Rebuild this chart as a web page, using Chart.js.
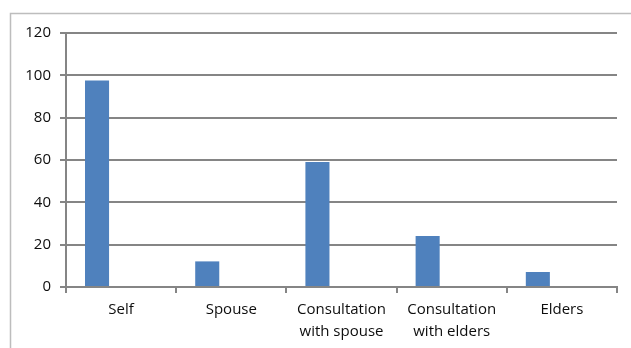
<!DOCTYPE html>
<html>
<head>
<meta charset="utf-8">
<script src="https://cdn.jsdelivr.net/npm/chart.js@4"></script>
<style>
    body { margin: 0; background: #fff; }
    canvas { display: block; }
</style>
</head>
<body>
<canvas id="chart" width="631" height="348"></canvas>
<script>
// --- data ---
const categories = ['Self', 'Spouse', ['Consultation', 'with spouse'], ['Consultation', 'with elders'], 'Elders'];
const seriesValues = [97.6, 12.1, 59, 24.1, 7.1];
// the sheet had two more (empty) series, which is why the bars sit left in each slot
const emptySeries = [null, null, null, null, null];
const yTicks = [0, 20, 40, 60, 80, 100, 120];

const gridGray = '#858585';

// outer frame of the chart object (right and bottom edges fall outside the picture)
const framePlugin = {
    id: 'frame',
    beforeDraw(chart) {
        const ctx = chart.ctx;
        ctx.save();
        ctx.strokeStyle = '#bdbdbd';
        ctx.lineWidth = 1.5;
        ctx.beginPath();
        ctx.moveTo(10.5, 348);
        ctx.lineTo(10.5, 13.5);
        ctx.lineTo(631, 13.5);
        ctx.stroke();
        ctx.restore();
    }
};

const ctx = document.getElementById('chart').getContext('2d');
new Chart(ctx, {
    type: 'bar',
    data: {
        labels: categories,
        datasets: [
            { label: 'Series1', data: seriesValues, backgroundColor: '#4f81bd' },
            { label: 'Series2', data: emptySeries, backgroundColor: '#c0504d' },
            { label: 'Series3', data: emptySeries, backgroundColor: '#9bbb59' }
        ]
    },
    options: {
        responsive: false,
        animation: false,
        layout: { padding: { top: 33, right: 14, bottom: 0, left: 0 } },
        plugins: { legend: { display: false }, tooltip: { enabled: false } },
        datasets: { bar: { barPercentage: 1, categoryPercentage: 0.655 } },
        scales: {
            x: {
                afterFit: (s) => { s.height = 61; },
                grid: { offset: true, drawOnChartArea: false, color: gridGray, lineWidth: 2, tickLength: 6 },
                border: { color: gridGray, width: 2 },
                ticks: {
                    autoSkip: false, maxRotation: 0, padding: 6, color: '#0d0d0d',
                    font: { family: 'Open Sans', size: 15, lineHeight: 1.45 }
                }
            },
            y: {
                min: 0, max: 120,
                afterFit: (s) => { s.width = 66; },
                afterBuildTicks: (s) => { s.ticks = yTicks.map(v => ({ value: v })); },
                grid: { color: gridGray, lineWidth: 2, tickLength: 6 },
                border: { color: gridGray, width: 2 },
                ticks: {
                    padding: 9, color: '#0d0d0d',
                    font: { family: 'Open Sans', size: 15 }
                }
            }
        }
    },
    plugins: [framePlugin]
});
</script>
</body>
</html>
